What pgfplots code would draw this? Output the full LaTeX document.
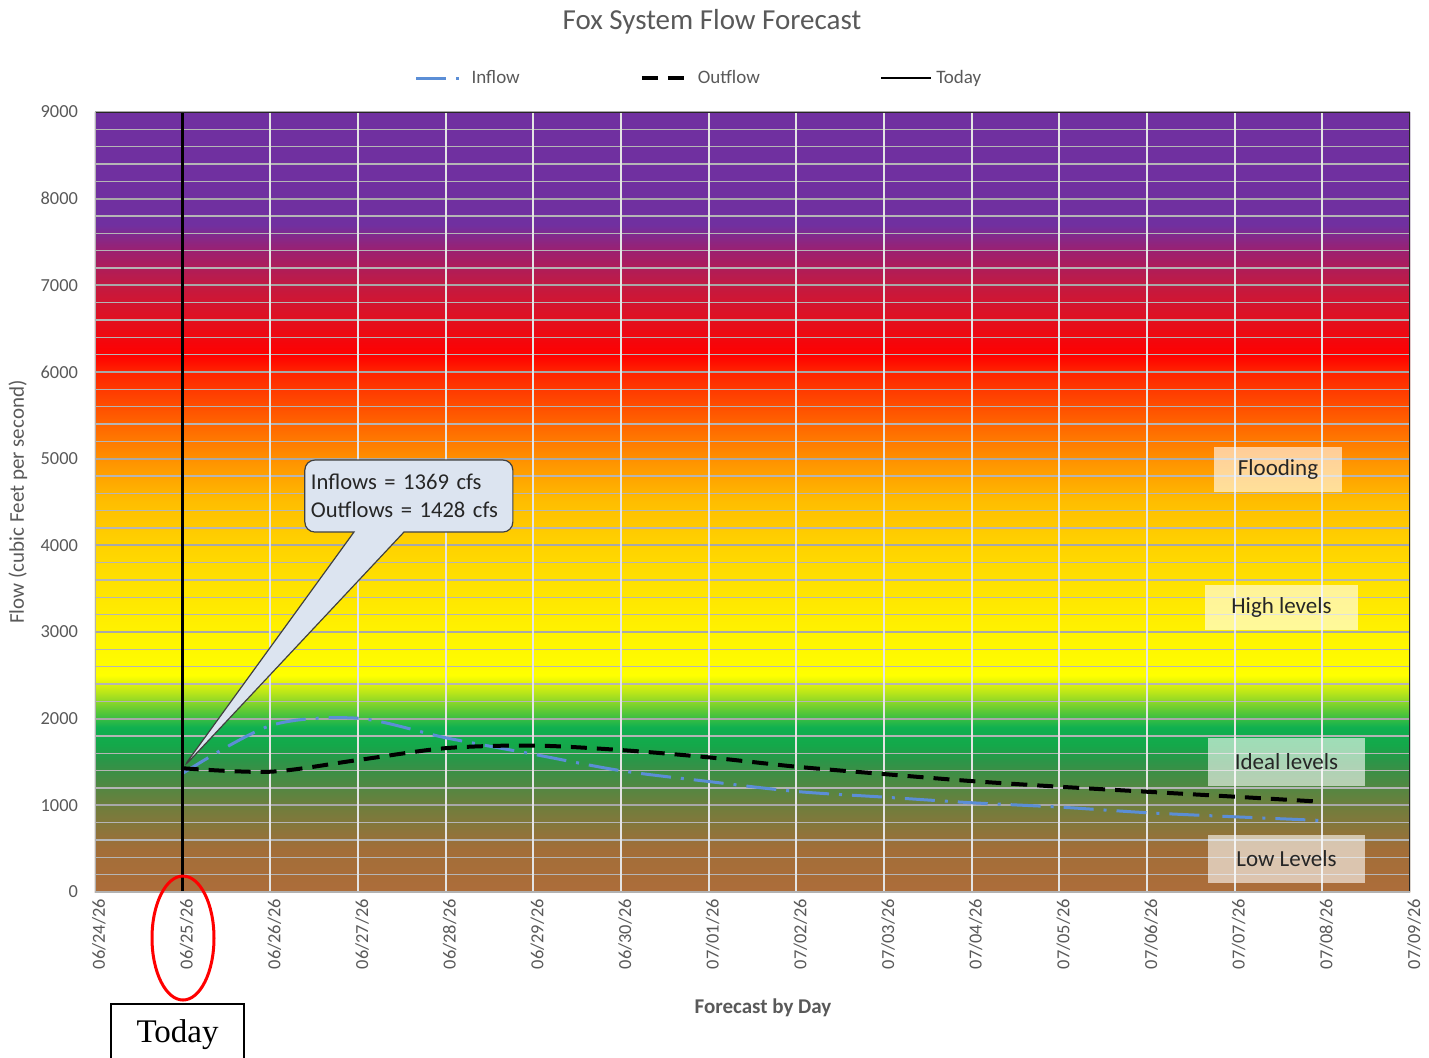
\documentclass[border=0pt]{standalone}
\usepackage{pgfplots}
\pgfplotsset{compat=1.18}
\usepackage{fontspec}
\setmainfont{Carlito}
\newfontfamily\seriffont{Liberation Serif}
\usetikzlibrary{shapes.callouts}
\definecolor{txtgray}{HTML}{595959}
\definecolor{gridgray}{HTML}{A8A8A8}
\definecolor{vgrid}{HTML}{E4E4E4}
\definecolor{inflowblue}{HTML}{5B8ED6}
\definecolor{calloutfill}{HTML}{DCE4F0}
\definecolor{c0}{HTML}{AD6D3A}
\definecolor{c500}{HTML}{A26E38}
\definecolor{c1000}{HTML}{6E7E3D}
\definecolor{c1500}{HTML}{2E9448}
\definecolor{c1700}{HTML}{14A84A}
\definecolor{c1900}{HTML}{10B050}
\definecolor{c2100}{HTML}{60CA35}
\definecolor{c2300}{HTML}{B8E51A}
\definecolor{c2500}{HTML}{FFFF00}
\definecolor{c3000}{HTML}{FFF200}
\definecolor{c3600}{HTML}{FFE000}
\definecolor{c4000}{HTML}{FFD200}
\definecolor{c4500}{HTML}{FFBE00}
\definecolor{c5000}{HTML}{FF9000}
\definecolor{c5500}{HTML}{FF5A00}
\definecolor{c6000}{HTML}{FF2400}
\definecolor{c6200}{HTML}{FF0000}
\definecolor{c6600}{HTML}{E2101F}
\definecolor{c7000}{HTML}{C21A42}
\definecolor{c7400}{HTML}{9C2070}
\definecolor{c7700}{HTML}{7030A0}
\pgfdeclareverticalshading{fox}{100bp}{%
color(0bp)=(c0); color(25bp)=(c0); color(27.778bp)=(c500); color(30.556bp)=(c1000);
color(33.333bp)=(c1500); color(34.444bp)=(c1700); color(35.556bp)=(c1900);
color(36.667bp)=(c2100); color(37.778bp)=(c2300); color(38.889bp)=(c2500);
color(41.667bp)=(c3000); color(45bp)=(c3600); color(47.222bp)=(c4000);
color(50bp)=(c4500); color(52.778bp)=(c5000); color(55.556bp)=(c5500);
color(58.333bp)=(c6000); color(59.444bp)=(c6200); color(61.667bp)=(c6600);
color(63.889bp)=(c7000); color(66.111bp)=(c7400); color(67.778bp)=(c7700);
color(75bp)=(c7700); color(100bp)=(c7700)}
\begin{document}
\begin{tikzpicture}
\useasboundingbox (0,0) rectangle (714.5pt,-528.5pt);
\begin{axis}[
  at={(47.5pt,-446pt)}, anchor=south west,
  scale only axis, width=657.5pt, height=390pt,
  xmin=0, xmax=15, ymin=0, ymax=9000,
  axis background/.style={shade, shading=fox},
  xtick={0,...,15},
  xticklabels={06/24/26,06/25/26,06/26/26,06/27/26,06/28/26,06/29/26,06/30/26,07/01/26,07/02/26,07/03/26,07/04/26,07/05/26,07/06/26,07/07/26,07/08/26,07/09/26},
  ytick={0,1000,...,9000},
  minor y tick num=4,
  ymajorgrids, yminorgrids,
  major grid style={draw=gridgray, line width=1.1pt},
  minor grid style={draw=gridgray!85, line width=0.55pt},
  major tick length=0pt, minor tick length=0pt,
  axis line style={draw=none},
  ticklabel style={font=\fontsize{9.2}{10}\selectfont, text=txtgray},
  /pgf/number format/assume math mode=true,
  /pgf/number format/1000 sep={},
  xticklabel style={rotate=90, anchor=east, yshift=-2pt},
  yticklabel style={xshift=-5pt},
  title={Fox System Flow Forecast},
  title style={at={(axis description cs:0.4692,1.1154)}, anchor=center, yshift=-6pt, font=\fontsize{14.5}{16}\selectfont, text=txtgray},
  xlabel={Forecast by Day},
  xlabel style={at={(axis description cs:0.508,-0.1487)}, anchor=center, font=\bfseries\fontsize{10.5}{12}\selectfont, text=txtgray},
  ylabel={Flow (cubic Feet per second)},
  ylabel style={at={(axis description cs:-0.0586,0.5)}, anchor=center, font=\fontsize{10.5}{12}\selectfont, text=txtgray},
  legend columns=3,
  legend style={at={(axis description cs:0.4600,1.0436)}, anchor=center, draw=none, fill=none,
    font=\fontsize{9.5}{11}\selectfont, text=txtgray,
    /tikz/every even column/.append style={column sep=58pt}},
  legend image code/.code={\draw[#1] (0pt,0pt) -- (25pt,0pt);},
]
\pgfplotsinvokeforeach{1,...,14}{\draw[vgrid, line width=0.9pt] (axis cs:#1,0) -- (axis cs:#1,9000);}

\addplot[inflowblue, line width=1.5pt, smooth, dash pattern=on 15pt off 5pt on 1.5pt off 5pt] coordinates {
(1,1369) (2,1920) (3,2005) (4,1780) (5,1590) (6,1400) (7,1275) (8,1160) (9,1095) (10,1030) (11,980) (12,915) (13,868) (14,825)};
\addlegendentry{Inflow}
\addplot[black, line width=2pt, smooth, dash pattern=on 8pt off 5pt] coordinates {
(1,1428) (2,1388) (3,1523) (4,1660) (5,1690) (6,1638) (7,1554) (8,1446) (9,1361) (10,1280) (11,1215) (12,1157) (13,1100) (14,1041)};
\addlegendentry{Outflow}
\addplot[black, line width=1.25pt] coordinates {(1,0) (1,9000)};
\addlegendentry{Today}

\draw[black!85, line width=1pt] (rel axis cs:0,1) -- (rel axis cs:1,1) -- (rel axis cs:1,0);
\draw[gray!60, line width=0.75pt] (rel axis cs:0,1) -- (rel axis cs:0,0) -- (rel axis cs:1,0);

\node[rectangle callout, rounded corners=5pt, draw=black!75, fill=calloutfill, line width=0.6pt,
  callout absolute pointer={(axis cs:1,1430)}, callout pointer width=25pt,
  text width=98pt, inner xsep=3pt, inner ysep=3pt, minimum height=36pt, align=left,
  font=\fontsize{11.3}{14}\selectfont, text=black!85] at (axis cs:3.58,4569) {Inflows = 1369 cfs\\Outflows = 1428 cfs};
\end{axis}
\begin{scope}[x=0.5pt,y=-0.5pt]
  \draw[red, line width=1.5pt] (183,938) ellipse [x radius=15.5pt, y radius=31pt];
  \draw[black, line width=0.6pt, fill=white] (111,1004) rectangle (244,1075);
  \node[font=\seriffont\fontsize{16.5}{18}\selectfont] at (177.5,1035) {Today};
  \tikzset{lvl/.style={fill=white, fill opacity=0.6, text opacity=1, inner sep=0pt, font=\fontsize{11.5}{13}\selectfont, text=black!85}}
  \node[lvl, minimum width=64pt, minimum height=22.5pt] at (1278,469.5) {Flooding};
  \node[lvl, minimum width=76.5pt, minimum height=22.5pt] at (1281.5,607.5) {High levels};
  \node[lvl, minimum width=78.5pt, minimum height=24pt] at (1286.5,762) {Ideal levels};
  \node[lvl, minimum width=78.5pt, minimum height=24pt] at (1286.5,859) {Low Levels};
\end{scope}
\end{tikzpicture}
\end{document}
